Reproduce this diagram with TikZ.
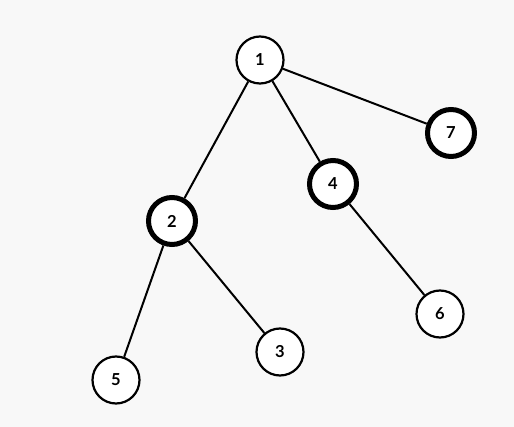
\documentclass[tikz,border=0pt]{standalone}
\usepackage{fontspec}
\setmainfont{Lato}
\usepackage{tikz}
\usetikzlibrary{positioning}
\usepackage{xcolor}
\definecolor{paper}{HTML}{F8F8F8}

\begin{document}
\begin{tikzpicture}[
    on grid,
    vertex/.style={circle, draw, fill=white, line width=2.2pt, minimum size=47pt, inner sep=0pt, font=\fontsize{16.5}{19}\selectfont\bfseries},
    marked/.style={vertex, line width=5pt},
    edge/.style={draw, line width=2pt}
]
    % Background
    \fill[paper] (0,0) rectangle (514pt,-427pt);
    \useasboundingbox (0,0) rectangle (514pt,-427pt);

    % Nodes
    \node (n1) [vertex] at (260pt,-60pt) {1};
    \node (n2) [marked, below left=161pt and 88pt of n1] {2};
    \node (n4) [marked, below right=124pt and 73pt of n1] {4};
    \node (n7) [marked, below right=73pt and 191pt of n1] {7};
    \node (n6) [vertex, below right=130pt and 107pt of n4] {6};
    \node (n3) [vertex, below right=131pt and 108pt of n2] {3};
    \node (n5) [vertex, below left=159pt and 56pt of n2] {5};

    % Edges
    \path [edge] (n1) -- (n2);
    \path [edge] (n1) -- (n4);
    \path [edge] (n1) -- (n7);
    \path [edge] (n4) -- (n6);
    \path [edge] (n2) -- (n3);
    \path [edge] (n2) -- (n5);
\end{tikzpicture}
\end{document}
